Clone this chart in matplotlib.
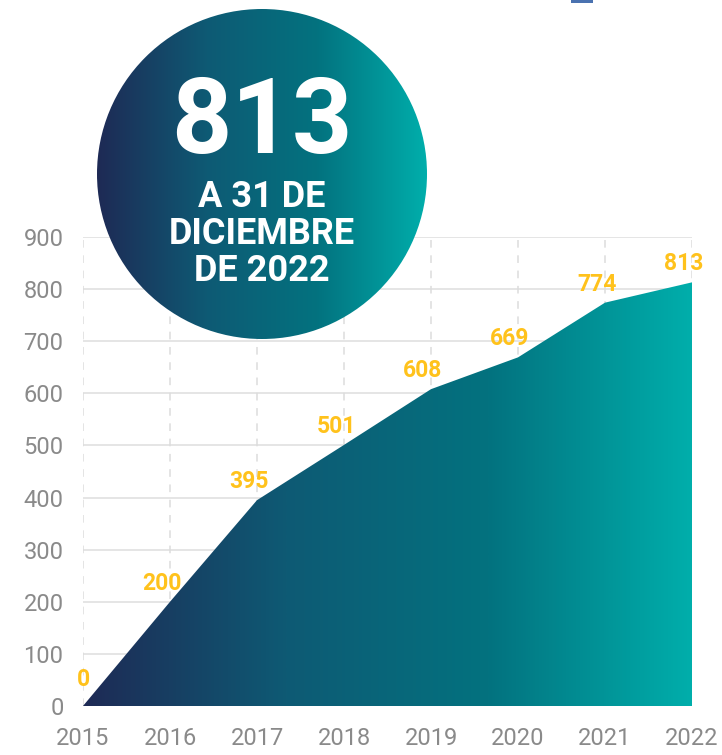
import numpy as np
import matplotlib
matplotlib.use("Agg")
import matplotlib.pyplot as plt
from matplotlib.colors import LinearSegmentedColormap
from matplotlib.patches import Circle, Rectangle, Polygon
import matplotlib.transforms as mtransforms

years = [2015, 2016, 2017, 2018, 2019, 2020, 2021, 2022]
values = [0, 200, 395, 501, 608, 669, 774, 813]
yticks = [0, 100, 200, 300, 400, 500, 600, 700, 800, 900]
big_number = "813"
subtitle = "A 31 DE\nDICIEMBRE\nDE 2022"

W, H = 722, 755
fig = plt.figure(figsize=(W / 100, H / 100), dpi=100)
fig.patch.set_facecolor("white")

cmap = LinearSegmentedColormap.from_list(
    "grad", ["#1e2a55", "#0e5a74", "#03727f", "#00aeab"], N=256)

# main axes: x 2015->83px, 2022->692px ; y 0->706px, 900->237px
left, right = 83, 692
bottom_px, top_px = 706, 237
ax = fig.add_axes([left / W, (H - bottom_px) / H, (right - left) / W, (bottom_px - top_px) / H])
ax.set_xlim(2015, 2022)
ax.set_ylim(0, 900)
for s in ax.spines.values():
    s.set_visible(False)

ax.set_yticks(yticks)
ax.set_xticks(years)
ax.tick_params(length=0, labelsize=17, labelcolor="#8a8a8a", pad=14)
ax.tick_params(axis="x", pad=15)
for lab in ax.get_xticklabels() + ax.get_yticklabels():
    lab.set_fontfamily("Roboto")

for y in yticks:
    ax.axhline(y, color="#e3e3e3", lw=1.3, zorder=1)
for x in years:
    ax.axvline(x, color="#dcdcdc", lw=1.1, ls=(0, (5, 5)), zorder=1)

# gradient area
poly_pts = [(years[0], 0)] + list(zip(years, values)) + [(years[-1], 0)]
poly = Polygon(poly_pts, closed=True, facecolor="none", edgecolor="none", transform=ax.transData)
ax.add_patch(poly)
grad = np.linspace(0, 1, 512).reshape(1, -1)
im = ax.imshow(grad, cmap=cmap, extent=(2015, 2022, 0, 900), aspect="auto", zorder=2,
               interpolation="bilinear")
im.set_clip_path(poly)
ax.set_xlim(2015, 2022)
ax.set_ylim(0, 900)

# value labels
for x, v in zip(years, values):
    dx, dy = (-8, 12) if v > 0 else (0, 20)
    off = mtransforms.offset_copy(ax.transData, fig=fig, x=dx, y=dy, units="dots")
    ax.text(x, v, str(v), transform=off, ha="center", va="baseline", fontsize=16.5,
            fontweight="bold", color="#ffc21c", family="Roboto", zorder=5, clip_on=False)

# overlay axes in pixel coords
ov = fig.add_axes([0, 0, 1, 1])
ov.set_xlim(0, W)
ov.set_ylim(H, 0)
ov.axis("off")
ov.patch.set_alpha(0)

cx, cy, r = 262, 174, 165
circ = Circle((cx, cy), r, facecolor="none", edgecolor="none")
ov.add_patch(circ)
cim = ov.imshow(grad, cmap=cmap, extent=(cx - r, cx + r, cy + r, cy - r), aspect="auto",
                zorder=3, interpolation="bilinear")
cim.set_clip_path(circ)
ov.set_xlim(0, W)
ov.set_ylim(H, 0)

ov.text(cx, 153, big_number, ha="center", va="baseline", fontsize=76, fontweight="bold",
        color="white", family="Roboto", zorder=4)
ov.text(cx, 234, subtitle, ha="center", va="center", fontsize=26, fontweight="bold",
        color="white", family="Roboto", zorder=4, linespacing=1.05)

# small cut-off marker at top right
ov.add_patch(Rectangle((571, 0), 22, 3, facecolor="#4a72b0", edgecolor="none", zorder=4))

fig.savefig("out.png", dpi=100)
